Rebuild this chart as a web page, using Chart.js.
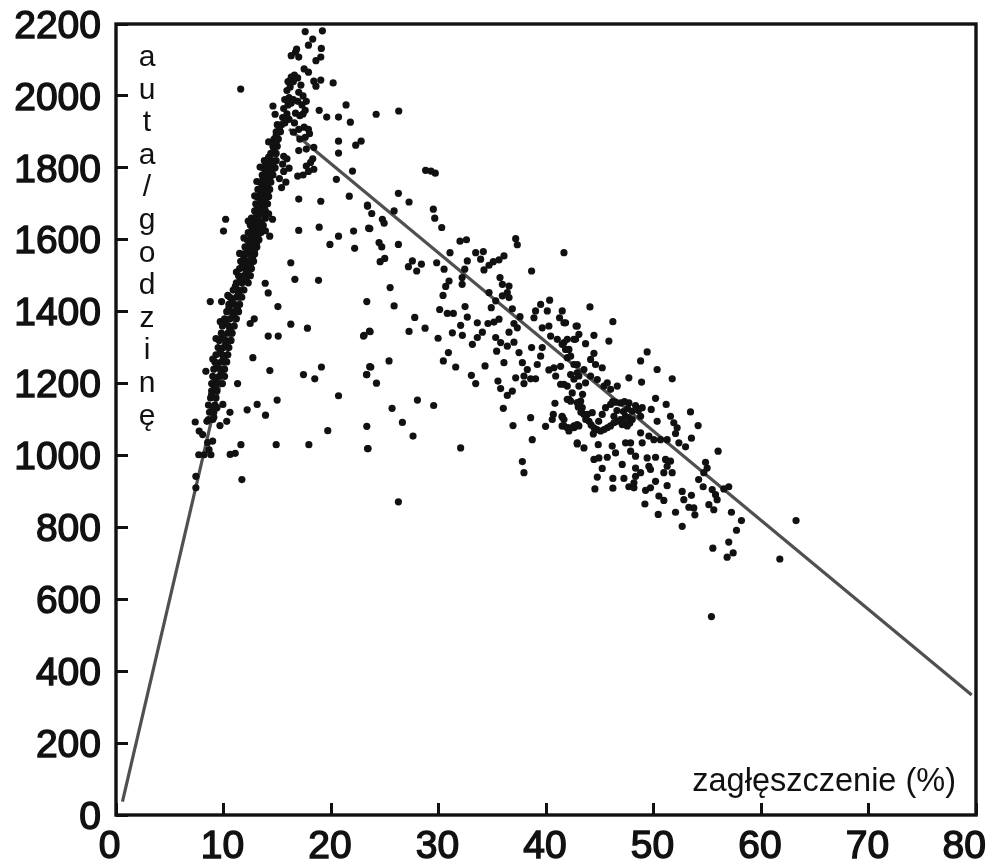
<!DOCTYPE html>
<html lang="pl">
<head>
<meta charset="utf-8">
<title>auta/godzinę – zagłęszczenie</title>
<script src="https://cdn.jsdelivr.net/npm/chart.js@4"></script>
<style>
  html, body { margin: 0; padding: 0; background: #fff; }
  #wrap { width: 994px; height: 863px; }
  canvas { display: block; filter: blur(0.6px); }
</style>
</head>
<body>
<div id="wrap"><canvas id="chart" width="994" height="863"></canvas></div>
<script>
// ── Data: [density %, cars/hour] ──────────────────────────────────────
const peakPoints = [
  [17.6,2179],[19.2,2181],[17.9,2141],[18.3,2158],[19.1,2132],[19.05,2108],[18.6,2098],[16.7,2122],[16.3,2112],[17.0,2108],
  [16.8,2130],[17.5,2075],[17.9,2066],[18.4,2041],[19.05,2044],[18.6,2027],[20.2,2036],[11.6,2019],[21.4,1975],[18.9,1960],
  [19.6,1941],[20.7,1941],[21.8,1927],[14.6,1972],[14.8,1949],[20.7,1874],[22.8,1874],[22.3,1863],[20.7,1841],[22.0,1791],
  [20.5,1768],[21.7,1721],[17.0,1713],[19.05,1707],[23.4,1693],[10.2,1657],[10.0,1624],[17.0,1626],[18.9,1635],[20.7,1610],
  [22.1,1624],[23.5,1632],[19.9,1587],[22.2,1576],[26.3,1958],[24.2,1949],[29.3,1791],[28.8,1793],[29.7,1785],
  [16.0,2040],[16.3,2052],[16.6,2058],[16.9,2050],[17.2,2030],[15.9,2015],[16.2,2025],[16.5,2040],[17.0,2010],[17.4,2000],
  [15.7,1990],[16.1,1995],[16.5,1990],[16.9,1985],[17.3,1975],[17.7,1985],[17.6,1960],[15.6,1965],[16.0,1975],[16.3,1980],
  [15.9,1950],[16.7,1952],[17.1,1945],[17.4,1950],[16.1,1935],[16.6,1925],[15.7,1925],[15.5,1940],
  [16.5,1899],[17.0,1907],[17.5,1913],[17.9,1907],[17.6,1885],[17.1,1880],[18.0,1895],
  [15.6,1832],[15.9,1825],[15.5,1810],[16.1,1799],[15.6,1790],[15.2,1770],[15.8,1760],[15.4,1745],[17.0,1848],[17.7,1852],
  [18.4,1857],[16.9,1777],[17.4,1780],[17.7,1805],[18.3,1825],[18.4,1796],[17.9,1790],[18.1,1815],[14.7,1866]
];

// the solid rising band, read row by row
const bandPoints = [
  [8.6,1100],[9.0,1100],[8.7,1120],[9.1,1120],[8.6,1140],[9.2,1140],[8.8,1160],[9.3,1160],[8.9,1180],[9.4,1180],
  [8.9,1200],[9.4,1200],[9.9,1200],[9.0,1220],[9.6,1220],[10.1,1220],[9.1,1240],[9.7,1240],[10.1,1240],[9.2,1260],
  [9.8,1260],[10.3,1260],[9.3,1280],[9.9,1280],[10.4,1280],[9.5,1300],[10.0,1300],[10.5,1300],[9.6,1320],[10.2,1320],
  [10.7,1320],[9.8,1340],[10.4,1340],[10.8,1340],[9.9,1360],[10.5,1360],[11.0,1360],[10.1,1380],[10.6,1380],[11.2,1380],
  [10.3,1400],[10.8,1400],[11.4,1400],[10.5,1420],[11.0,1420],[11.5,1420],[10.6,1440],[11.2,1440],[11.7,1440],[10.9,1460],
  [11.4,1460],[11.9,1460],[11.2,1480],[11.7,1480],[12.3,1480],[11.4,1500],[11.9,1500],[12.5,1500],[11.5,1520],[12.0,1520],
  [12.6,1520],[11.6,1540],[12.2,1540],[12.8,1540],[11.8,1560],[12.4,1560],[12.9,1560],[12.0,1580],[12.6,1580],[13.1,1580],
  [12.2,1600],[12.8,1600],[13.3,1600],[12.3,1620],[12.9,1620],[13.5,1620],[12.5,1640],[13.1,1640],[13.7,1640],[12.6,1660],
  [13.2,1660],[13.9,1660],[12.9,1680],[13.4,1680],[13.9,1680],[13.0,1700],[13.6,1700],[14.1,1700],[13.1,1720],[13.7,1720],
  [14.2,1720],[13.2,1740],[13.8,1740],[14.3,1740],[13.4,1760],[13.9,1760],[14.4,1760],[13.6,1780],[14.1,1780],[14.6,1780],
  [13.7,1800],[14.3,1800],[14.8,1800],[13.8,1820],[14.4,1820],[14.9,1820],[14.4,1840],[14.9,1840],[14.6,1860],[15.0,1860],
  [14.7,1880],[15.1,1880],[14.9,1900],[15.3,1900],[15.0,1920],[15.4,1920],
  [14.56,1657],[14.3,1610],
  [16.26,1536],[16.64,1490],[18.84,1487],[13.88,1479],[14.16,1452],[15.06,1414],[23.33,1428],[8.77,1428],[9.82,1428],[12.86,1380],
  [12.48,1367],[16.26,1365],[17.81,1354],[14.16,1332],[15.09,1332],[23.02,1332],[23.58,1346],[12.73,1272],[14.31,1236],[19.11,1246],
  [17.44,1225],[18.49,1213],[23.33,1225],[23.6,1247],[11.31,1200],[20.7,1166],[14.99,1154],[13.13,1142],[12.2,1127],[13.91,1112],
  [19.7,1069],[23.33,1081],[14.9,1030],[17.94,1030],[11.62,1030],[23.4,1019],[10.62,1003],[11.09,1006],[11.71,933],[7.37,1093],
  [8.36,1234],[9.94,1142],[10.6,1120],[10.3,1095],[9.67,1083],[9.1,1106],[9.39,1133],[7.74,1068],[8.06,1058],[7.7,1002],
  [8.2,1002],[8.83,1002],[8.99,1040],[8.52,1036],[8.65,1016],[7.43,942],[7.43,910],[8.46,1095]
];

// readings between the rows above, and the rough edges of the band
const bandFillPoints = [
  [9.0,1130],[8.9,1170],[9.2,1190],[9.3,1210],[9.8,1230],[9.4,1250],[9.0,1268],[10.0,1270],[9.7,1290],[10.2,1310],
  [9.3,1325],[9.9,1330],[10.6,1350],[10.2,1370],[9.7,1372],[10.9,1390],[10.5,1410],[11.3,1410],[10.8,1430],[11.4,1450],
  [10.4,1445],[11.1,1470],[11.6,1490],[12.1,1490],[11.2,1510],[12.2,1510],[11.8,1530],[12.5,1530],[11.9,1550],[12.7,1550],
  [11.5,1562],[12.2,1570],[12.9,1572],[12.4,1590],[13.1,1592],[12.6,1610],[13.2,1612],[11.9,1605],[12.7,1630],[13.4,1632],
  [13.9,1625],[12.9,1650],[13.5,1650],[12.3,1652],[13.1,1670],[13.7,1670],[14.2,1672],[13.2,1690],[13.8,1692],[13.4,1710],
  [13.9,1712],[12.9,1722],[13.5,1730],[14.1,1730],[13.6,1750],[14.1,1752],[13.1,1762],[13.7,1770],[14.3,1772],[13.9,1790],
  [14.5,1790],[13.4,1802],[14.0,1810],[14.6,1812],[14.2,1830],[14.7,1850],[14.2,1872],[14.9,1870],[14.9,1890],[15.2,1910]
];

const midPoints = [
  [26.27,1729],[27.26,1705],[23.39,1696],[23.79,1673],[25.87,1680],[29.52,1685],[29.65,1660],[30.3,1634],[24.78,1657],[24.94,1646],
  [23.61,1631],[24.47,1592],[24.72,1580],[26.27,1587],[32.0,1596],[32.6,1600],[37.18,1603],[37.33,1586],[41.67,1564],[31.07,1564],
  [33.46,1564],[34.17,1567],[33.92,1546],[36.09,1555],[35.63,1544],[35.1,1539],[34.7,1529],[34.23,1516],[32.68,1541],[32.44,1518],
  [32.2,1495],[29.83,1536],[30.52,1518],[25.0,1548],[24.57,1539],[27.57,1541],[27.2,1525],[28.41,1532],[27.97,1513],[38.66,1513],
  [30.98,1485],[30.67,1470],[32.2,1476],[30.42,1445],[25.5,1467],[25.87,1416],[35.72,1495],[35.94,1476],[36.56,1471],[36.4,1453],
  [35.94,1444],[34.7,1453],[36.56,1439],[35.32,1430],[34.91,1411],[36.87,1408],[32.47,1414],[30.11,1406],[30.82,1395],[31.38,1395],
  [32.68,1385],[27.79,1384],[40.34,1432],[39.5,1420],[39.03,1402],[38.88,1383],[40.12,1402],[41.51,1402],[41.26,1383],[41.82,1369],
  [37.58,1386],[37.02,1367],[37.33,1355],[36.56,1343],[35.63,1379],[35.16,1371],[34.6,1367],[33.61,1369],[32.06,1362],[31.29,1341],
  [32.22,1334],[29.96,1326],[28.75,1354],[27.26,1345],[23.64,1344],[23.08,1334],[34.08,1343],[33.61,1328],[33.15,1309],[39.65,1355],
  [40.27,1360],[42.91,1360],[35.32,1328],[35.78,1314],[35.41,1290],[36.4,1304],[37.02,1315],[38.66,1300],[39.65,1300],[39.5,1276],
  [39.19,1253],[37.49,1286],[37.8,1258],[38.26,1239],[37.95,1221],[37.95,1200],[30.92,1286],[30.45,1263],[31.6,1246],[34.33,1249],
  [36.09,1258],[25.4,1263],[23.7,1246],[23.3,1225],[24.23,1201],[33.06,1223],[33.46,1200],[37.18,1216],[39.03,1213],[38.57,1213],
  [35.53,1207],[35.78,1186],[36.87,1179],[36.4,1167],[28.04,1154],[29.55,1139],[25.68,1131],[36.03,1131],[26.64,1092],[27.63,1054],
  [38.57,1105],[36.93,1083],[39.96,1081],[38.72,1044],[23.45,1019],[32.06,1021],[37.8,983],[37.95,952],[26.27,871],[40.83,1145],
  [40.68,1114],[40.58,1100],[41.51,1107],[41.67,1082],[42.13,1077],[42.6,1077],[43.06,1082],[42.9,1032],
  [41.98,1272],[42.6,1253],[41.36,1248],[40.74,1244],[40.27,1238],[40.9,1221],[41.36,1198],[41.98,1193],[42.6,1212],[42.9,1230],
  [43.06,1193],[42.13,1156],[42.9,1147],[41.67,1314],[41.05,1323],[40.43,1332],[42.6,1323],[42.13,1295]
];

const tailPoints = [
  [44.09,1413],[46.22,1372],[41.67,1369],[42.8,1360],[44.46,1334],[45.85,1318],[43.06,1337],[42.75,1323],[43.68,1311],[41.98,1323],
  [41.5,1309],[49.41,1288],[48.8,1263],[50.34,1239],[47.71,1216],[48.89,1204],[51.74,1213],[44.46,1284],[44.15,1267],[45.23,1244],
  [44.61,1253],[41.82,1295],[42.29,1276],[42.91,1253],[43.53,1239],[44.15,1221],[44.77,1211],[45.39,1193],[46.01,1184],[46.63,1193],
  [45.7,1202],[42.29,1225],[43.06,1221],[43.68,1202],[41.67,1198],[42.44,1174],[41.98,1156],[42.29,1151],[43.22,1151],[43.37,1133],
  [43.53,1114],[44.0,1095],[44.46,1077],[45.08,1068],[45.7,1077],[46.32,1091],[46.94,1100],[47.56,1082],[48.02,1100],[47.4,1109],
  [46.94,1146],[47.71,1146],[48.33,1139],[48.95,1133],[46.01,1142],[48.02,1123],[48.8,1109],[45.54,1133],[45.23,1114],[46.32,1109],
  [47.09,1086],[43.84,1114],[44.3,1119],[41.5,1082],[41.98,1077],[42.6,1082],[42.9,1086],[41.67,1100],[42.13,1068],[41.5,1109],
  [50.19,1159],[51.18,1142],[49.79,1128],[53.44,1121],[54.15,1083],[50.34,1095],[51.58,1109],[51.89,1091],[52.2,1077],[52.05,1061],
  [53.53,1048],[48.8,1063],[48.95,1035],[49.57,1054],[50.03,1044],[50.65,1044],[51.27,1044],[52.36,1035],[52.98,1024],[56.01,1012],
  [42.91,1035],[43.53,1021],[44.86,1030],[46.16,1026],[46.47,1007],[47.4,1035],[47.87,1035],[47.87,1012],[48.33,998],[44.46,989],
  [44.92,993],[45.7,995],[47.09,975],[49.41,993],[50.19,995],[51.12,989],[51.58,984],[49.57,970],[51.27,970],[51.74,952],
  [50.96,952],[49.72,961],[48.33,965],[48.33,942],[48.8,952],[45.23,964],[44.77,940],[46.22,936],[47.25,936],[48.18,924],
  [47.71,913],[48.18,910],[50.19,928],[49.72,910],[49.26,903],[51.27,916],[44.55,907],[46.22,909],[54.84,981],[54.99,965],
  [54.68,952],[54.2,933],[54.62,913],[57.0,913],[56.54,907],[55.46,905],[55.77,891],[55.92,877],[52.67,900],[53.53,889],
  [52.82,877],[50.5,887],[50.96,875],[49.2,865],[55.15,863],[55.61,849],[53.29,856],[53.75,854],[53.85,835],[52.05,842],
  [50.44,836],[57.25,842],[58.18,819],[63.26,819],[52.67,803],[57.72,792],[57.0,759],[55.52,742],[57.41,729],[56.85,717],
  [61.75,712],[55.39,552],
  // thick curved run under the line around 43–48 %
  [43.0,1135],[43.25,1120],[43.7,1100],[44.2,1085],[44.75,1072],[45.4,1072],[46.0,1082],[46.6,1095],[47.2,1092],[47.8,1090],
  [47.2,1122],[47.6,1130],[46.6,1125],[46.2,1150],[46.5,1148],[47.3,1150],[48.6,1125],[47.7,1105],[44.4,1060],[44.9,1095],[43.4,1170]
];

// The two fitted lines
const freeFlowLine = [[0.6, 37], [15.3, 1920]];
const congestedLine = [[16.1, 1908], [79.6, 334]];

const xTicks = [0, 10, 20, 30, 40, 50, 60, 70, 80];
const yTicks = [0, 200, 400, 600, 800, 1000, 1200, 1400, 1600, 1800, 2000, 2200];
const yAxisLetters = ['a', 'u', 't', 'a', '/', 'g', 'o', 'd', 'z', 'i', 'n', 'ę'];
const xAxisLabel = 'zagłęszczenie (%)';

// ── Chart ─────────────────────────────────────────────────────────────
const FONT = '"Liberation Sans", Arial, sans-serif';
const INK = '#111';

function toXY(rows) {
  return rows.map(r => ({ x: r[0], y: r[1] }));
}

// frame, the letters running down the y axis and the label inside the plot
const framePlugin = {
  id: 'frame',
  afterDraw(chart) {
    const { ctx, chartArea: a } = chart;
    ctx.save();
    ctx.strokeStyle = INK;
    ctx.lineWidth = 3.4;
    ctx.strokeRect(a.left, a.top, a.right - a.left, a.bottom - a.top);

    ctx.fillStyle = INK;
    ctx.textAlign = 'center';
    ctx.textBaseline = 'alphabetic';
    ctx.font = '30px ' + FONT;
    yAxisLetters.forEach((ch, i) => {
      ctx.fillText(ch, a.left + 31, a.top + 42 + i * 32.6);
    });

    ctx.textAlign = 'right';
    ctx.font = '32.5px ' + FONT;
    ctx.fillText(xAxisLabel, a.right - 20, a.bottom - 24);
    ctx.restore();
  },
};

new Chart(document.getElementById('chart').getContext('2d'), {
  type: 'scatter',
  data: {
    datasets: [
      {
        label: 'pomiary',
        data: toXY(peakPoints.concat(bandPoints, bandFillPoints, midPoints, tailPoints)),
        backgroundColor: INK,
        borderWidth: 0,
        pointRadius: 3.6,
      },
      {
        label: 'free flow',
        data: toXY(freeFlowLine),
        showLine: true,
        borderColor: '#505050',
        borderWidth: 3.2,
        pointRadius: 0,
        tension: 0,
      },
      {
        label: 'congested',
        data: toXY(congestedLine),
        showLine: true,
        borderColor: '#505050',
        borderWidth: 3.2,
        pointRadius: 0,
        tension: 0,
      },
    ],
  },
  options: {
    responsive: false,
    animation: false,
    layout: { padding: { top: 24, right: 18, bottom: 0, left: 0 } },
    plugins: { legend: { display: false }, tooltip: { enabled: false } },
    scales: {
      x: {
        type: 'linear',
        min: 0,
        max: 80,
        afterBuildTicks: s => { s.ticks = xTicks.map(v => ({ value: v })); },
        afterFit: s => { s.height = 48; s.paddingLeft = 0; s.paddingRight = 0; },
        border: { display: false },
        grid: { drawOnChartArea: false, drawTicks: true, tickLength: -12, color: INK, lineWidth: 3 },
        ticks: {
          autoSkip: false,
          maxRotation: 0,
          padding: 21,
          labelOffset: -1,
          color: INK,
          font: { family: FONT, size: 39 },
          textStrokeColor: INK,
          textStrokeWidth: 1.4,
          // the end labels sit a little inside their ticks in the original
          callback: v => (v === 0 ? '0 ' : v === 80 ? '80  ' : String(v)),
        },
      },
      y: {
        type: 'linear',
        min: 0,
        max: 2200,
        afterBuildTicks: s => { s.ticks = yTicks.map(v => ({ value: v })); },
        afterFit: s => { s.width = 116; s.paddingTop = 0; s.paddingBottom = 0; },
        border: { display: false },
        grid: { drawOnChartArea: false, drawTicks: true, tickLength: -12, color: INK, lineWidth: 3 },
        ticks: {
          autoSkip: false,
          padding: 27,
          labelOffset: 3,
          color: INK,
          font: { family: FONT, size: 39 },
          textStrokeColor: INK,
          textStrokeWidth: 1.4,
          callback: v => String(v),
        },
      },
    },
  },
  plugins: [framePlugin],
});
</script>
</body>
</html>
